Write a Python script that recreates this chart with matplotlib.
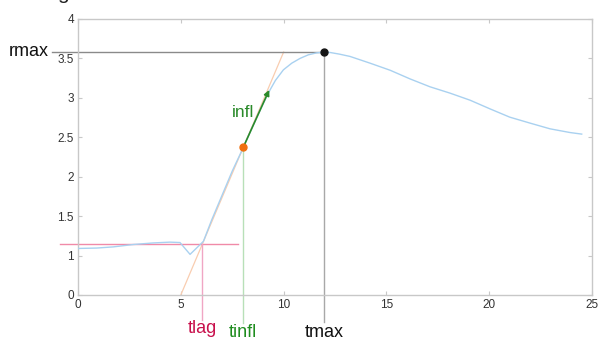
import matplotlib
matplotlib.use("Agg")
import matplotlib.pyplot as plt

plt.rcParams['font.family'] = ['Liberation Sans', 'DejaVu Sans']

# growth curve (y values on the displayed axis)
t = [0, 0.9, 1.72, 2.69, 3.66, 4.47, 4.96, 5.45, 6.1, 6.5, 7.0, 7.5, 8.04, 8.5,
     9.0, 9.34, 9.6, 9.99, 10.4, 10.8, 11.2, 11.6, 12.0, 12.26, 12.7, 13.23,
     14.2, 15.18, 16.15, 17.12, 18.09, 19.07, 20.04, 21.0, 21.98, 22.96,
     23.93, 24.5]
r = [1.09, 1.095, 1.11, 1.14, 1.16, 1.17, 1.165, 1.015, 1.18, 1.45, 1.76, 2.07,
     2.37, 2.64, 2.92, 3.10, 3.22, 3.355, 3.44, 3.50, 3.545, 3.57, 3.58, 3.575,
     3.555, 3.525, 3.44, 3.35, 3.24, 3.14, 3.06, 2.97, 2.86, 2.755, 2.68,
     2.607, 2.56, 2.54]

tangent_x = [5.0, 10.0]
tangent_y = [0.5, 3.58]
arrow_end = (9.3, 3.1)

tlag, lag_level = 6.04, 1.143
tinfl, rinfl = 8.04, 2.374
tmax, rmax = 11.98, 3.58

yticks = [0.5, 1, 1.5, 2, 2.5, 3, 3.5, 4]
ytick_labels = ['0', '1', '1.5', '2', '2.5', '3', '3.5', '4']
xticks = [0, 5, 10, 15, 20, 25]

fig = plt.figure(figsize=(6.01, 3.40), dpi=100)
ax = fig.add_axes([0.1298, 0.1324, 0.8552, 0.8118])

# lines
ax.plot(tangent_x, tangent_y, color='#f9cdb0', lw=0.9, zorder=2)
ax.plot(t, r, color='#a9d1f0', lw=1.0, zorder=3)

# lag
ax.plot([-0.88, 7.78], [lag_level, lag_level], color='#f08aa8', lw=1.0, clip_on=False)
ax.plot([tlag, tlag], [lag_level, 0.183], color='#f0a6c4', lw=1.0, clip_on=False)
ax.text(tlag, 0.07, 'tlag', color='#c8104c', fontsize=13, ha='center', va='center', clip_on=False)

# inflection
ax.plot([tinfl, tinfl], [rinfl, 0.145], color='#b8e0b8', lw=1.0, clip_on=False)
ax.annotate('', xy=arrow_end, xytext=(tinfl, rinfl),
            arrowprops=dict(arrowstyle='-|>', color='#2a8a2a', lw=1.2,
                            mutation_scale=8, shrinkA=0, shrinkB=0), zorder=5)
ax.text(8.03, 2.82, 'infl', color='#2a8a2a', fontsize=12.5, ha='center', va='center')
ax.plot([tinfl], [rinfl], 'o', color='#f07010', ms=5, zorder=6)
ax.text(tinfl, 0.03, 'tinfl', color='#1e8c1e', fontsize=13, ha='center', va='center', clip_on=False)

# max
ax.plot([-1.28, tmax], [rmax, rmax], color='#8a8a8a', lw=1.0, clip_on=False)
ax.plot([tmax, tmax], [rmax, 0.157], color='#a8a8a8', lw=1.0, clip_on=False)
ax.plot([tmax], [rmax], 'o', color='#151515', ms=5, zorder=6)
ax.text(tmax, 0.02, 'tmax', color='#111111', fontsize=13, ha='center', va='center', clip_on=False)
ax.text(-2.4, rmax + 0.01, 'rmax', color='#111111', fontsize=13, ha='center', va='center', clip_on=False)

# axes look
ax.set_xlim(0, 25)
ax.set_ylim(0.5, 4)
ax.set_xticks(xticks)
ax.set_yticks(yticks)
ax.set_yticklabels(ytick_labels)
for s in ax.spines.values():
    s.set_color('#c8c8c8')
    s.set_linewidth(1.0)
ax.tick_params(direction='in', length=3, color='#c8c8c8', labelsize=8.5,
               labelcolor='#333333', top=True, right=True, pad=3)

# the cut-off letter at the top left of the original
fig.text(57 / 601, 1 + 1 / 340, 'g', fontsize=15, color='#222222', va='baseline')

fig.savefig('out.png', dpi=100)
